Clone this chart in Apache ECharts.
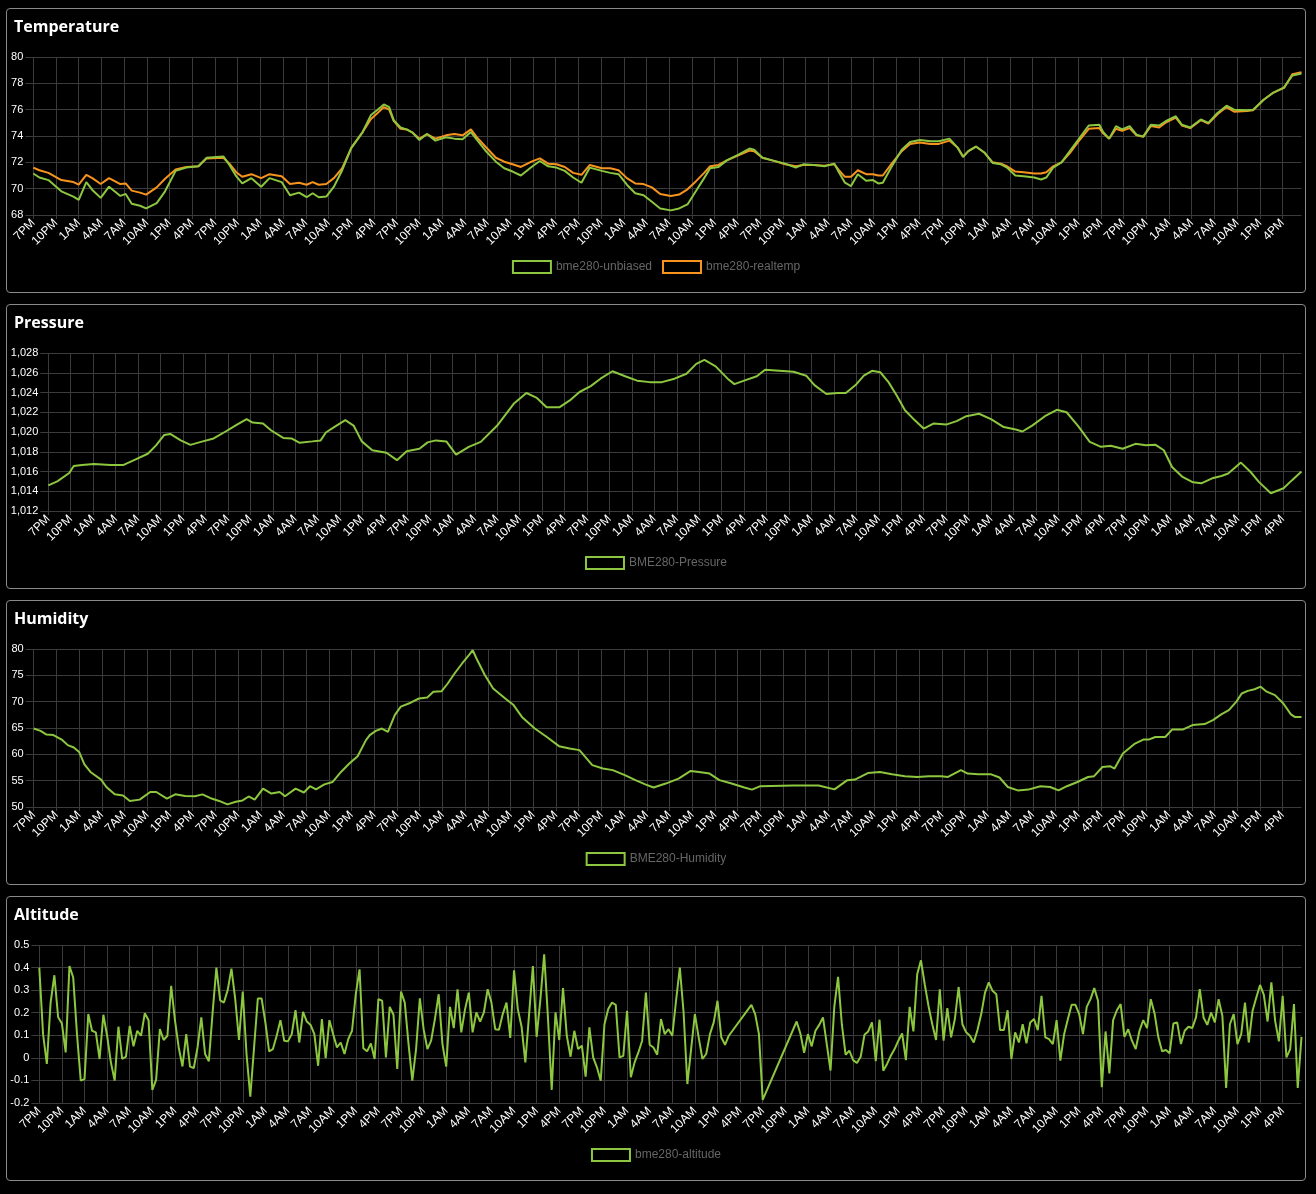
<!DOCTYPE html>
<html>
<head>
<meta charset="utf-8">
<script src="https://cdn.jsdelivr.net/npm/echarts@6/dist/echarts.min.js"></script>
<style>
body { margin: 0; background: #000; width: 1316px; height: 1194px; overflow: hidden; }
.panel { position: absolute; left: 6px; width: 1298px; height: 283px; border: 1px solid #8a8a8a; border-radius: 4px; }
.chart { width: 1298px; height: 283px; }
</style>
</head>
<body>
<div class="panel" style="top:8px"><div id="temperature" class="chart"></div></div>
<div class="panel" style="top:304px"><div id="pressure" class="chart"></div></div>
<div class="panel" style="top:600px"><div id="humidity" class="chart"></div></div>
<div class="panel" style="top:896px"><div id="altitude" class="chart"></div></div>
<script>
// x = hours since the first 7PM tick, labels every 3 hours
var hourLabels = [
  '7PM','10PM','1AM','4AM','7AM','10AM','1PM','4PM',
  '7PM','10PM','1AM','4AM','7AM','10AM','1PM','4PM',
  '7PM','10PM','1AM','4AM','7AM','10AM','1PM','4PM',
  '7PM','10PM','1AM','4AM','7AM','10AM','1PM','4PM',
  '7PM','10PM','1AM','4AM','7AM','10AM','1PM','4PM',
  '7PM','10PM','1AM','4AM','7AM','10AM','1PM','4PM',
  '7PM','10PM','1AM','4AM','7AM','10AM','1PM','4PM'
];
var xMax = 167.5;

/*----- temperature -----*/
var tempHours = [
  0,0.8,2.0,3.7,5.3,6.0,7.0,7.8,8.9,10.0,
  11.5,12.2,13.0,14.1,14.9,16.3,17.4,18.8,20.2,21.8,
  22.9,25.1,25.9,26.8,27.6,28.8,30.1,31.2,32.8,33.9,
  35.1,36.1,36.9,37.7,38.7,39.7,40.8,42.0,43.5,44.6,
  45.4,46.3,47.0,47.6,48.5,49.3,50.1,51.0,52.0,53.1,
  54.5,55.6,56.7,57.8,58.6,59.7,61.1,62.2,63.3,64.4,
  65.8,66.9,68.0,69.1,70.2,71.3,72.4,73.5,75.1,76.2,
  77.3,78.4,79.5,80.6,81.7,82.8,84.2,85.3,86.4,87.5,
  88.6,89.4,90.5,91.6,93.2,94.6,95.2,96.3,97.6,99.3,
  100.7,101.7,103.1,104.5,105.8,106.4,107.2,108.0,108.9,110.0,
  110.9,111.6,112.2,113.3,114.7,115.8,117.1,118.5,119.6,121.0,
  122.1,122.8,123.5,124.5,125.6,126.7,127.8,128.6,129.7,130.8,
  132.2,133.1,133.8,134.7,135.8,136.9,138.0,139.4,140.8,141.3,
  142.1,143.0,143.8,144.8,145.7,146.6,147.6,148.7,149.5,150.9,
  151.7,152.8,154.2,155.2,156.4,157.6,158.6,160.3,161.1,162.5,
  163.8,165.2,166.3,167.5
];
var tempUnbiased = [
  71.15,70.85,70.65,69.8,69.4,69.15,70.5,69.9,69.3,70.15,
  69.45,69.6,68.85,68.7,68.5,68.9,69.8,71.35,71.6,71.7,
  72.35,72.45,71.8,70.95,70.4,70.8,70.15,70.8,70.5,69.5,
  69.7,69.35,69.65,69.35,69.4,70.15,71.4,73.1,74.3,75.6,
  75.95,76.4,76.2,75.2,74.65,74.5,74.25,73.7,74.15,73.65,
  73.9,73.8,73.75,74.3,73.7,72.9,72.05,71.55,71.3,71.0,
  71.65,72.1,71.7,71.6,71.35,70.85,70.45,71.6,71.35,71.2,
  71.1,70.3,69.65,69.5,69.0,68.5,68.35,68.5,68.8,69.8,
  70.8,71.55,71.65,72.15,72.6,73.05,72.95,72.35,72.15,71.9,
  71.6,71.85,71.8,71.7,71.9,71.25,70.45,70.2,71.1,70.6,
  70.65,70.4,70.45,71.6,72.95,73.55,73.7,73.6,73.6,73.8,
  73.1,72.4,72.85,73.2,72.75,71.95,71.85,71.6,71.0,70.95,
  70.85,70.7,70.85,71.6,72.0,72.85,73.7,74.8,74.85,74.3,
  73.8,74.75,74.5,74.75,74.1,73.95,74.85,74.8,75.1,75.5,
  74.85,74.65,75.25,75.0,75.75,76.3,76.0,75.95,76.0,76.75,
  77.3,77.7,78.6,78.75
];
var tempReal = [
  71.6,71.4,71.2,70.65,70.5,70.3,71.05,70.8,70.35,70.8,
  70.35,70.4,69.85,69.7,69.55,70.1,70.75,71.45,71.65,71.7,
  72.3,72.35,71.9,71.25,70.9,71.1,70.8,71.1,70.95,70.35,
  70.45,70.3,70.5,70.3,70.35,70.8,71.55,73.1,74.3,75.3,
  75.7,76.2,76.0,75.15,74.55,74.5,74.25,73.8,74.15,73.8,
  74.05,74.15,74.05,74.5,73.9,73.2,72.35,72.05,71.85,71.65,
  72.05,72.3,71.9,71.85,71.65,71.2,71.05,71.8,71.55,71.55,
  71.4,70.8,70.4,70.35,70.1,69.6,69.45,69.55,69.95,70.55,
  71.2,71.7,71.8,72.15,72.55,72.9,72.85,72.35,72.15,71.85,
  71.7,71.8,71.8,71.75,71.85,71.4,70.9,70.9,71.4,71.1,
  71.1,71.0,71.0,71.85,72.85,73.4,73.5,73.4,73.4,73.65,
  73.1,72.45,72.85,73.2,72.75,72.0,71.9,71.7,71.3,71.25,
  71.15,71.15,71.25,71.7,72.0,72.7,73.55,74.55,74.6,74.2,
  73.8,74.55,74.4,74.6,74.05,73.95,74.75,74.65,75.0,75.4,
  74.8,74.6,75.2,74.95,75.65,76.2,75.85,75.9,75.95,76.75,
  77.3,77.65,78.7,78.85
];

/*----- pressure [hour, hPa] -----*/
var pressure = [
  [0,1014.6],[1.2,1015.0],[2.8,1015.85],[3.4,1016.55],[4.5,1016.65],[6.1,1016.75],[8.3,1016.65],[10.0,1016.65],
  [11.6,1017.2],[13.3,1017.8],[14.4,1018.65],[15.5,1019.7],[16.3,1019.8],[17.7,1019.15],[19.0,1018.7],[20.4,1019.0],
  [22.1,1019.35],[23.7,1020.05],[25.0,1020.65],[26.5,1021.3],[27.3,1020.95],[28.7,1020.85],[29.8,1020.15],[31.4,1019.4],
  [32.5,1019.35],[33.6,1018.9],[35.3,1019.05],[36.4,1019.15],[37.1,1019.95],[38.2,1020.5],[39.7,1021.2],[40.8,1020.65],
  [41.9,1019.05],[43.3,1018.15],[45.2,1017.9],[46.6,1017.15],[47.9,1018.05],[49.6,1018.3],[50.7,1018.95],[51.8,1019.15],
  [53.2,1019.05],[54.5,1017.7],[56.2,1018.5],[57.8,1019.0],[60.0,1020.65],[62.2,1022.85],[63.9,1023.95],[65.3,1023.45],
  [66.6,1022.5],[68.3,1022.5],[69.7,1023.2],[71.0,1024.05],[72.5,1024.65],[73.8,1025.4],[75.4,1026.15],[77.1,1025.65],
  [78.7,1025.2],[80.4,1025.05],[82.0,1025.05],[83.7,1025.4],[85.3,1025.9],[86.6,1026.9],[87.7,1027.3],[89.2,1026.65],
  [90.8,1025.4],[91.7,1024.85],[93.0,1025.2],[94.7,1025.65],[95.8,1026.3],[99.6,1026.1],[101.3,1025.7],[102.4,1024.75],
  [104.0,1023.85],[105.5,1023.95],[106.6,1023.95],[107.9,1024.75],[109.0,1025.7],[110.1,1026.2],[111.2,1026.05],[112.3,1025.05],
  [113.4,1023.7],[114.5,1022.2],[115.6,1021.35],[117.0,1020.35],[118.3,1020.85],[120.0,1020.75],[121.4,1021.1],[122.7,1021.6],
  [124.4,1021.85],[126.0,1021.3],[127.7,1020.5],[129.3,1020.25],[130.2,1020.05],[131.5,1020.65],[133.2,1021.6],[134.8,1022.25],
  [136.1,1022.0],[137.6,1020.65],[139.2,1019.0],[140.7,1018.5],[142.0,1018.6],[143.6,1018.3],[145.3,1018.8],[146.7,1018.65],
  [148.0,1018.7],[149.1,1018.15],[150.2,1016.45],[151.6,1015.45],[153.0,1014.9],[154.1,1014.8],[155.7,1015.35],[156.8,1015.55],
  [157.7,1015.8],[159.4,1016.9],[160.7,1015.95],[161.8,1014.95],[163.4,1013.8],[165.1,1014.3],[166.2,1015.1],[167.5,1016.0]
];

/*----- humidity [hour, %] -----*/
var humidity = [
  [0,64.9],[0.9,64.45],[1.7,63.75],[2.6,63.65],[3.7,62.8],[4.5,61.75],[5.3,61.3],[6.0,60.45],[6.7,58.1],[7.5,56.65],
  [8.9,55.2],[9.6,53.8],[10.7,52.4],[11.8,52.2],[12.7,51.15],[14.0,51.4],[15.4,52.85],[16.2,52.85],[17.6,51.6],[18.7,52.4],
  [20.0,52.1],[21.3,52.05],[22.3,52.4],[23.5,51.6],[24.5,51.15],[25.6,50.5],[26.7,51.0],[27.6,51.25],[28.4,52.0],[29.2,51.4],
  [30.3,53.5],[31.4,52.55],[32.5,52.85],[33.2,52.05],[34.6,53.5],[35.7,52.75],[36.5,53.95],[37.3,53.35],[38.4,54.3],[39.5,54.75],
  [40.6,56.65],[41.7,58.25],[42.8,59.65],[43.9,62.7],[44.4,63.65],[45.2,64.45],[46.0,64.9],[46.8,64.25],[47.7,67.45],[48.5,69.05],
  [49.8,69.8],[50.9,70.6],[52.0,70.8],[52.8,71.9],[53.9,72.0],[54.7,73.45],[55.6,75.35],[56.6,77.25],[57.5,78.85],[58.0,79.8],
  [58.5,78.2],[59.6,75.05],[60.7,72.5],[62.3,70.6],[63.4,69.35],[64.5,67.1],[66.2,64.9],[67.8,63.3],[69.4,61.55],[70.8,61.1],
  [72.1,60.8],[73.8,57.95],[75.2,57.3],[76.5,57.0],[78.1,56.05],[79.5,55.1],[80.8,54.3],[81.9,53.7],[83.5,54.45],[85.2,55.4],
  [86.8,56.85],[87.9,56.65],[89.3,56.35],[90.6,55.1],[92.2,54.45],[93.9,53.7],[94.9,53.3],[96.0,53.95],[100.4,54.1],[103.7,54.1],
  [105.8,53.35],[107.5,55.1],[108.5,55.2],[110.2,56.45],[111.8,56.65],[113.4,56.2],[115.1,55.85],[116.7,55.7],[118.3,55.85],[119.9,55.85],
  [120.8,55.7],[122.5,57.0],[123.4,56.35],[124.8,56.2],[126.5,56.2],[127.6,55.6],[128.7,53.8],[130.0,53.15],[131.4,53.3],[133.0,53.95],
  [134.3,53.8],[135.4,53.15],[136.5,53.95],[137.9,54.75],[139.3,55.7],[140.1,55.85],[141.2,57.6],[142.2,57.75],[142.8,57.3],[143.9,60.15],
  [145.5,62.05],[146.6,62.8],[147.3,62.8],[148.2,63.3],[149.5,63.3],[150.4,64.7],[151.8,64.7],[153.1,65.55],[154.7,65.75],[155.8,66.5],
  [156.9,67.6],[157.9,68.4],[158.9,70.0],[159.6,71.55],[160.4,72.05],[161.3,72.35],[162.1,72.85],[162.9,71.9],[164.0,71.25],[165.1,69.65],
  [166.1,67.6],[166.6,67.1],[167.5,67.1]
];

/*----- altitude: half-hourly readings, three runs split by logging gaps -----*/
var altRunAStart = 0;
var altRunA = [
  0.40,0.105,-0.027,0.245,0.366,0.18,0.152,0.024,0.407,0.356,
  0.105,-0.101,-0.094,0.194,0.12,0.113,-0.005,0.191,0.098,-0.02,
  -0.101,0.138,-0.005,0.005,0.142,0.051,0.12,0.098,0.198,0.167,
  -0.142,-0.098,0.127,0.079,0.098,0.319,0.167,0.046,-0.038,0.105,
  -0.039,-0.045,0.046,0.179,0.017,-0.015,0.201,0.4,0.255,0.245,
  0.3,0.395,0.26,0.079,0.294,0.017,-0.172,0.046,0.263,0.263,
  0.157,0.029,0.039,0.098,0.167,0.076,0.073,0.105,0.211,0.068,
  0.204,0.161,0.146,0.105,-0.035,0.172,-0.001,0.167,0.105,0.046,
  0.068,0.017,0.083,0.12,0.282,0.392,0.043,0.029,0.064,-0.005,
  0.26,0.253,0.002,0.226,0.191,-0.049,0.294,0.245,0.061,-0.101,
  0.039,0.264,0.127,0.039,0.076,0.172,0.282,0.061,-0.039,0.226,
  0.132,0.304,0.113,0.216,0.289,0.113,0.201,0.161,0.201,0.304,
  0.245,0.127,0.124,0.194,0.245,0.088,0.388,0.216,0.138,-0.02,
  0.194,0.407,0.093,0.26,0.459,0.179,-0.142,0.201,0.079,0.309,
  0.098,0.005,0.12,0.039,0.054,-0.083,0.135,0.002,-0.042,-0.101,
  0.149,0.216,0.245,0.235,0.002,0.009,0.208,-0.086,-0.02,0.024,
  0.076,0.289,0.058,0.046,0.014,0.172,0.105,0.127,
  0.098,0.253,0.4,0.201,-0.116,0.039,0.194,0.091,-0.005,0.017,
  0.105,0.157,0.253,0.091,0.058,0.098
];
var altRunBStart = 94.5;
var altRunB = [0.235,0.194,0.105,-0.186];
var altRunCStart = 100.5;
var altRunC = [
  0.161,0.108,0.022,0.105,0.051,0.12,0.146,0.179,0.061,-0.056,
  0.226,0.359,0.149,0.014,0.032,-0.01,-0.023,0.005,0.102,0.117,
  0.157,-0.015,0.169,-0.057,-0.027,0.009,0.039,0.076,0.108,-0.01,
  0.226,0.117,0.37,0.432,0.326,0.23,0.149,0.079,0.304,0.076,
  0.22,0.091,0.172,0.314,0.149,0.113,0.098,0.068,0.123,0.194,
  0.289,0.334,0.297,0.282,0.123,0.123,0.211,-0.005,0.113,0.068,
  0.149,0.064,0.157,0.172,0.123,0.275,0.091,0.083,0.061,0.167,
  -0.012,0.105,0.172,0.235,0.235,0.194,0.105,0.226,0.26,0.309,
  0.253,-0.13,0.117,-0.069,0.167,0.211,0.238,0.093,0.127,0.076,
  0.039,0.12,0.167,0.132,0.26,0.197,0.091,0.029,0.035,0.02,
  0.152,0.157,0.061,0.12,0.138,0.132,0.179,0.304,0.179,0.146,
  0.201,0.157,0.26,0.186,-0.133,0.149,0.194,0.061,0.105,0.245,
  0.068,0.208,0.267,0.323,0.279,0.161,0.334,0.164,0.073,0.275,
  0.002,0.039,0.238,-0.133,0.093
];

var GREEN = '#8dc63f';
var ORANGE = '#f7941e';
var GRID = '#3b3b3b';
var FONT = '"Liberation Sans", Arial, sans-serif';

function halfHourly(start, values) {
  return values.map(function (v, i) { return [start + i * 0.5, v]; });
}
var altitude = halfHourly(altRunAStart, altRunA)
  .concat(halfHourly(altRunBStart, altRunB))
  .concat(halfHourly(altRunCStart, altRunC));

function drawPanel(id, title, gridLeft, yCfg, lines) {
  var chart = echarts.init(document.getElementById(id));
  chart.setOption({
    animation: false,
    backgroundColor: 'transparent',
    title: {
      text: title, left: 2, top: 5,
      textStyle: { color: '#fff', fontSize: 16, fontWeight: 'bold', fontFamily: '"Open Sans", sans-serif' }
    },
    legend: {
      top: 246, left: 'center',
      icon: 'rect', itemWidth: 38, itemHeight: 12, itemGap: 10,
      textStyle: { color: '#666', fontSize: 12, fontFamily: FONT },
      data: lines.map(function (l) {
        return { name: l.name, itemStyle: { color: 'transparent', borderColor: l.color, borderWidth: 2 } };
      })
    },
    grid: { left: gridLeft, right: 3.5, top: 48, height: 158 },
    xAxis: {
      type: 'value', min: 0, max: xMax, interval: 3,
      axisLine: { show: false },
      axisTick: { show: true, length: 4, lineStyle: { color: GRID } },
      splitLine: { show: true, showMaxLine: false, lineStyle: { color: GRID } },
      axisLabel: {
        color: '#fff', fontSize: 12, fontFamily: FONT, rotate: 45, margin: 6, showMaxLabel: false,
        formatter: function (v) {
          var k = Math.round(v / 3);
          return Math.abs(v - k * 3) < 1e-6 && hourLabels[k] ? hourLabels[k] : '';
        }
      }
    },
    yAxis: {
      type: 'value', min: yCfg.min, max: yCfg.max, interval: yCfg.interval,
      axisLine: { show: false },
      axisTick: { show: true, length: 8, lineStyle: { color: GRID } },
      splitLine: { show: true, lineStyle: { color: GRID } },
      axisLabel: { color: '#fff', fontSize: 11, fontFamily: FONT, margin: 10, formatter: yCfg.formatter }
    },
    series: lines.map(function (l) {
      return {
        type: 'line', name: l.name, data: l.data, z: l.z || 2,
        symbol: 'none', silent: true,
        lineStyle: { color: l.color, width: 2 },
        itemStyle: { color: l.color }
      };
    })
  });
}

drawPanel('temperature', 'Temperature', 26.3, { min: 68, max: 80, interval: 2 }, [
  { name: 'bme280-unbiased', color: GREEN, z: 3, data: tempHours.map(function (h, i) { return [h, tempUnbiased[i]]; }) },
  { name: 'bme280-realtemp', color: ORANGE, z: 2, data: tempHours.map(function (h, i) { return [h, tempReal[i]]; }) }
]);

drawPanel('pressure', 'Pressure', 41.3, {
  min: 1012, max: 1028, interval: 2,
  formatter: function (v) { return v.toLocaleString('en-US'); }
}, [
  { name: 'BME280-Pressure', color: GREEN, data: pressure }
]);

drawPanel('humidity', 'Humidity', 26.7, { min: 50, max: 80, interval: 5 }, [
  { name: 'BME280-Humidity', color: GREEN, data: humidity }
]);

drawPanel('altitude', 'Altitude', 32.3, {
  min: -0.2, max: 0.5, interval: 0.1,
  formatter: function (v) { return String(Math.round(v * 10) / 10); }
}, [
  { name: 'bme280-altitude', color: GREEN, data: altitude }
]);
</script>
</body>
</html>
